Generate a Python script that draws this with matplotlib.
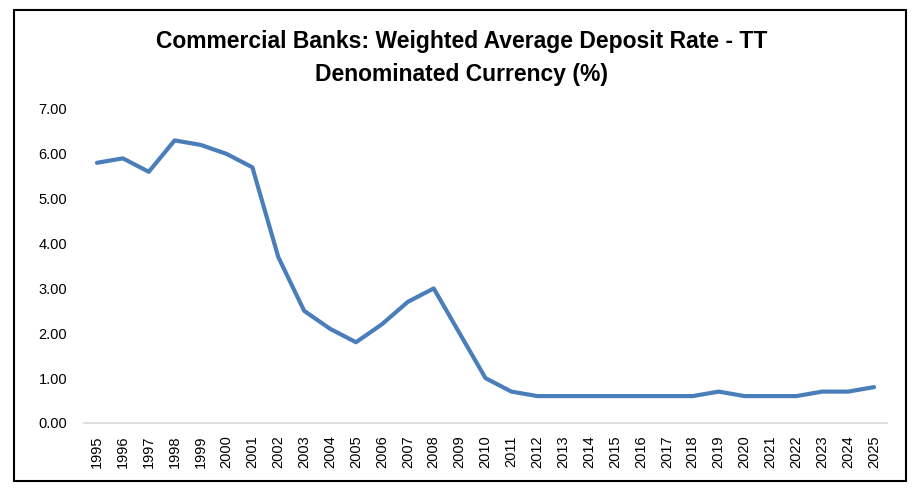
import numpy as np
import matplotlib
matplotlib.use("Agg")
import matplotlib.pyplot as plt
from matplotlib.patches import Rectangle

# --- Datos ---
years = list(range(1995, 2026))
rates = [5.8, 5.9, 5.6, 6.3, 6.2, 6.0, 5.7, 3.7, 2.5, 2.1, 1.8, 2.2, 2.7, 3.0,
         2.0, 1.0, 0.7, 0.6, 0.6, 0.6, 0.6, 0.6, 0.6, 0.6, 0.7, 0.6, 0.6, 0.6,
         0.7, 0.7, 0.8]
yticks = [0, 1, 2, 3, 4, 5, 6, 7]

title = "Commercial Banks: Weighted Average Deposit Rate - TT\nDenominated Currency (%)"

plt.rcParams['font.family'] = ['Liberation Sans', 'DejaVu Sans']

fig = plt.figure(figsize=(9.23, 4.95), dpi=100)
fig.patch.set_facecolor('white')

# marco negro alrededor del gráfico
W, H = 923, 495
fig.patches.append(Rectangle((14 / W, 1 - 481 / H), (906 - 14) / W, (481 - 10) / H,
                             transform=fig.transFigure, fill=False,
                             edgecolor='black', linewidth=1.5))

ax = fig.add_axes([84 / W, 1 - 423 / H, (887 - 84) / W, (423 - 109) / H])
ax.plot(years, rates, color='#4a7ebb', linewidth=3.0, solid_capstyle='round',
        solid_joinstyle='round')

ax.set_xlim(1994.5, 2025.5)
ax.set_ylim(0, 7)
ax.set_yticks(yticks)
ax.set_yticklabels([f"{v:.2f}" for v in yticks])
ax.set_xticks(years)
ax.set_xticklabels([str(y) for y in years], rotation=90)

for s in ['top', 'right', 'left']:
    ax.spines[s].set_visible(False)
ax.spines['bottom'].set_color('#d9d9d9')
ax.spines['bottom'].set_linewidth(1.2)
ax.tick_params(axis='both', length=0, labelsize=10.5, labelcolor='black')
ax.tick_params(axis='y', pad=12)
ax.tick_params(axis='x', pad=9)

fig.text(0.5, 1 - 58 / H, title, ha='center', va='center', fontsize=16.5,
         fontweight='bold', linespacing=1.6)

fig.savefig("out.png", dpi=100)
